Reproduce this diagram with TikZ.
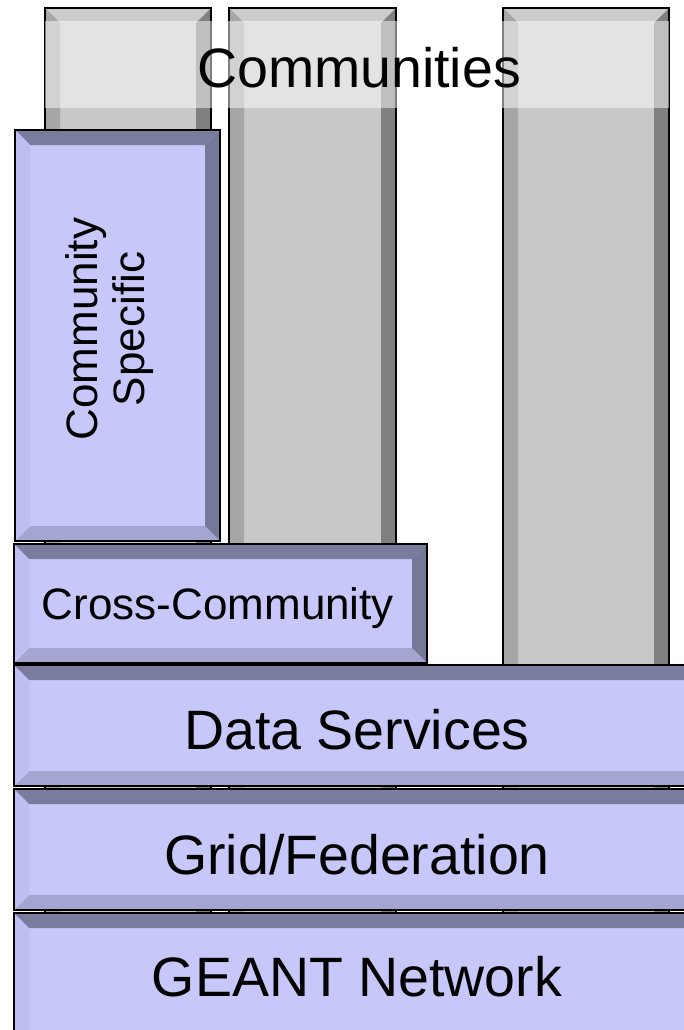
\documentclass[tikz,border=0pt]{standalone}
\usepackage{fontspec}
\setmainfont{Liberation Sans}
\definecolor{gface}{HTML}{C8C8C8}
\definecolor{gtop}{HTML}{CCCCCC}
\definecolor{gright}{HTML}{808080}
\definecolor{gbottom}{HTML}{B0B0B0}
\definecolor{gleft}{HTML}{A6A6A6}
\definecolor{bface}{RGB}{199,199,249}
\definecolor{btop}{RGB}{122,124,158}
\definecolor{bright}{RGB}{118,120,152}
\definecolor{bbottom}{RGB}{165,165,210}
\definecolor{bleft}{RGB}{190,190,240}
\newcommand\bevbox[5]{%
  \fill[#5face] (#1,#2) rectangle (#3,#4);
  \fill[#5top] (#1,#2) -- (#3,#2) -- ({#3-15},{#2+15}) -- ({#1+15},{#2+15}) -- cycle;
  \fill[#5right] (#3,#2) -- (#3,#4) -- ({#3-15},{#4-15}) -- ({#3-15},{#2+15}) -- cycle;
  \fill[#5bottom] (#1,#4) -- (#3,#4) -- ({#3-15},{#4-15}) -- ({#1+15},{#4-15}) -- cycle;
  \fill[#5left] (#1,#2) -- (#1,#4) -- ({#1+15},{#4-15}) -- ({#1+15},{#2+15}) -- cycle;
  \draw[line width=2pt] (#1,#2) rectangle (#3,#4);
}
\tikzset{
  big/.style={font=\fontsize{55.5}{60}\selectfont, inner sep=0pt},
  mid/.style={font=\fontsize{44}{47}\selectfont, inner sep=0pt, align=center},
}
\begin{document}
\begin{tikzpicture}[x=1pt,y=-1pt]
\useasboundingbox (0,0) rectangle (684,1030);
\clip (0,0) rectangle (684,1030);
\fill[white] (0,0) rectangle (684,1030);
% community columns
\bevbox{45}{8}{211}{1060}{g}
\bevbox{229}{8}{396}{1060}{g}
\bevbox{503}{8}{669}{1060}{g}
% translucent band
\fill[white,opacity=0.5] (45,21) rectangle (669,108);
\node[big] (comm) at (359,68) {Communities};
% layers
\bevbox{15}{130}{220}{541}{b}
\node[mid, rotate=90] (cs) at (110,329) {Community\\Specific};
\bevbox{14}{544}{427}{663}{b}
\node[mid] (cross) at (218,608) {Cross-Community};
\bevbox{14}{665}{700}{786}{b}
\node[big] (data) at (357,730) {Data Services};
\bevbox{14}{789}{700}{910}{b}
\node[big] (grid) at (357,855) {Grid/Federation};
\bevbox{14}{913}{700}{1050}{b}
\node[big] (geant) at (357,977) {GEANT Network};
\end{tikzpicture}
\end{document}
